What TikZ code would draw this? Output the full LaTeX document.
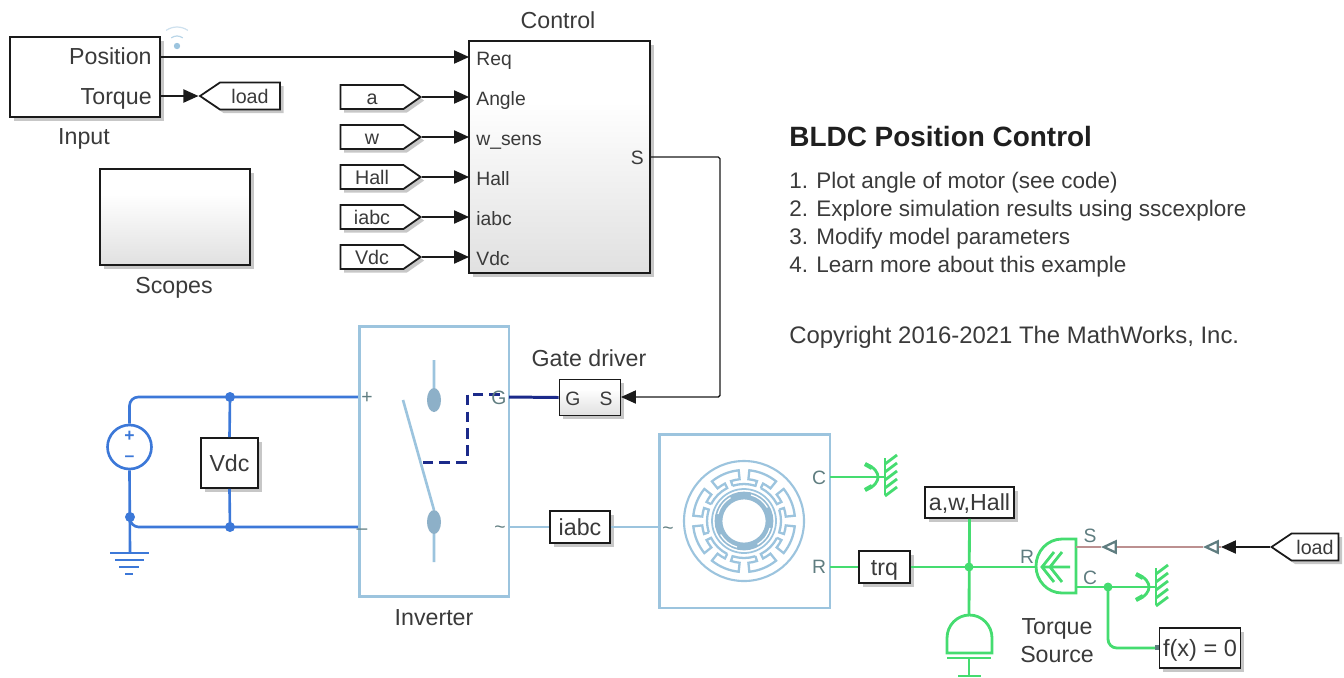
\documentclass[tikz,border=0pt]{standalone}
\usepackage{fontspec}
\setmainfont{Liberation Sans}
\usetikzlibrary{arrows.meta,shapes.symbols,shadows}
\definecolor{SigBlack}{HTML}{1A1A1A}
\definecolor{ElecBlue}{HTML}{3C78D8}
\definecolor{GateNavy}{HTML}{1B2A8A}
\definecolor{MotorBlue}{HTML}{9CC4DE}
\definecolor{MechGreen}{HTML}{45DC70}
\definecolor{SenseRed}{HTML}{BC9090}
\definecolor{PortGrey}{HTML}{5F7D80}
\definecolor{TextGrey}{HTML}{3A3A3A}
\pgfdeclareverticalshading{blockgrad}{100bp}{color(0bp)=(black!12); color(25bp)=(black!12); color(50bp)=(black!4); color(62bp)=(white); color(100bp)=(white)}
\tikzset{
  softshadow/.style={drop shadow={shadow xshift=2pt,shadow yshift=-2pt,opacity=.22,fill=black}},
  plainblock/.style={draw=SigBlack,line width=1.1pt,fill=white,softshadow,inner sep=0pt,text=TextGrey,text height=9.5pt,text depth=0pt,font=\fontsize{13.2}{15}\selectfont},
  gradblock/.style={plainblock,shade,shading=blockgrad},
  physbox/.style={draw=MotorBlue,line width=1.7pt,fill=white,inner sep=0pt},
  tagnode/.style={draw=SigBlack,line width=1pt,fill=white,softshadow,signal,signal from=nowhere,inner sep=0pt,text=TextGrey,text height=8pt,text depth=0pt,font=\fontsize{11.2}{13}\selectfont},
  lbl/.style={inner sep=0pt,text=TextGrey,text height=9.5pt,text depth=0pt,font=\fontsize{13.2}{15}\selectfont},
  portlbl/.style={inner sep=0pt,text=TextGrey,text height=8pt,text depth=0pt,font=\fontsize{11}{13}\selectfont},
  physport/.style={inner sep=0pt,text=PortGrey,text height=8pt,text depth=0pt,font=\fontsize{11}{13}\selectfont},
  sigline/.style={draw=SigBlack,line width=.8pt,-{Triangle[length=8.5pt,width=7.5pt]}},
  elecline/.style={draw=ElecBlue,line width=1.5pt},
  gateline/.style={draw=GateNavy,line width=1.7pt},
  motorline/.style={draw=MotorBlue,line width=1.5pt},
  mechline/.style={draw=MechGreen,line width=1.6pt},
  senseline/.style={draw=SenseRed,line width=1.3pt},
  hollowtip/.style={-{Triangle[open,length=9pt,width=8pt,color=PortGrey]}},
  elecdot/.style={fill=ElecBlue,draw=none},
  mechdot/.style={fill=MechGreen,draw=none},
  rotref/.pic={
    \draw[mechline] (0,-19) -- (0,18);
    \draw[mechline] (0,-13) -- (12,-22) (0,-5) -- (12,-14) (0,3) -- (12,-6) (0,11) -- (12,2) (0,19) -- (12,10);
    \draw[mechline] (-20,-13) .. controls (-10,-10) and (-7,-4) .. (-7,0) .. controls (-7,4) and (-10,10) .. (-20,13);
    \draw[mechline,line width=2.4pt] (-20,-13) -- (-13,-9) (-20,13) -- (-13,9);
  }
}
\begin{document}
\begin{tikzpicture}[x=0.02cm,y=-0.02cm]
  \useasboundingbox (0,0) rectangle (1344,677);

  % top row
  \node[plainblock,minimum width=3cm,minimum height=1.6cm] (input) at (85,77) {};
  \node[lbl,anchor=east] (inputPos) at (152,56) {Position};
  \node[lbl,anchor=east] (inputTrq) at (152,96) {Torque};
  \node[lbl] (inputName) at (84,136) {Input};
  \coordinate (posOut) at (160,57);
  \coordinate (trqOut) at (160,96);
  \fill[MotorBlue] (177,46) circle (3.2);
  \draw[MotorBlue!70,line width=.7pt] (177,46) ++(235:10) arc[start angle=235,end angle=305,radius=10];
  \draw[MotorBlue!50,line width=.7pt] (177,46) ++(235:19) arc[start angle=235,end angle=305,radius=19];
  \node[tagnode,signal to=west,signal pointer angle=68,minimum width=1.6cm,minimum height=.54cm] (loadOut) at (250,96) {load};
  \draw[sigline] (trqOut) -- (loadOut.west);

  \node[gradblock,minimum width=3cm,minimum height=1.92cm] (scopes) at (175,217) {};
  \node[lbl] (scopesName) at (174,285) {Scopes};

  % control block
  \node[gradblock,minimum width=3.62cm,minimum height=4.64cm] (control) at (559.5,157) {};
  \node[lbl] (controlName) at (558,20) {Control};
  \node[portlbl,anchor=west] (reqLbl) at (476,58) {Req};
  \node[portlbl,anchor=west] (angleLbl) at (476,98) {Angle};
  \node[portlbl,anchor=west] (wLbl) at (476,138) {w\_sens};
  \node[portlbl,anchor=west] (hallLbl) at (476,178) {Hall};
  \node[portlbl,anchor=west] (iabcLbl) at (476,218) {iabc};
  \node[portlbl,anchor=west] (vdcLbl) at (476,258) {Vdc};
  \node[portlbl,anchor=east] (sLbl) at (644,157) {S};
  \coordinate (reqIn) at (469,57);
  \coordinate (angleIn) at (469,97);
  \coordinate (wIn) at (469,137);
  \coordinate (hallIn) at (469,177);
  \coordinate (iabcIn) at (469,217);
  \coordinate (vdcIn) at (469,257);
  \coordinate (sOut) at (650,157);
  \draw[sigline] (posOut) -- (reqIn);

  \node[tagnode,signal to=east,signal pointer angle=70,minimum width=1.6cm,minimum height=.48cm] (fromA) at (372,97) {a\hspace{.62cm}};
  \node[tagnode,signal to=east,signal pointer angle=70,minimum width=1.6cm,minimum height=.48cm] (fromW) at (372,137) {w\hspace{.62cm}};
  \node[tagnode,signal to=east,signal pointer angle=70,minimum width=1.6cm,minimum height=.48cm] (fromHall) at (372,177) {Hall\hspace{.52cm}};
  \node[tagnode,signal to=east,signal pointer angle=70,minimum width=1.6cm,minimum height=.48cm] (fromIabc) at (372,217) {iabc\hspace{.52cm}};
  \node[tagnode,signal to=east,signal pointer angle=70,minimum width=1.6cm,minimum height=.48cm] (fromVdc) at (372,257) {Vdc\hspace{.52cm}};
  \draw[sigline] (fromA.east) -- (angleIn);
  \draw[sigline] (fromW.east) -- (wIn);
  \draw[sigline] (fromHall.east) -- (hallIn);
  \draw[sigline] (fromIabc.east) -- (iabcIn);
  \draw[sigline] (fromVdc.east) -- (vdcIn);

  % notes
  \node[anchor=west,inner sep=0pt,text=black!88,font=\bfseries\fontsize{15.9}{18}\selectfont] (title) at (789,137) {BLDC Position Control};
  \node[anchor=north west,inner sep=0pt,text=TextGrey,align=left,font=\fontsize{12.8}{15.87}\selectfont] (steps) at (789,172) {1. Plot angle of motor (see code)\\2. Explore simulation results using sscexplore\\3. Modify model parameters\\4. Learn more about this example};
  \node[anchor=west,inner sep=0pt,text=TextGrey,font=\fontsize{13.6}{15}\selectfont] (copyright) at (789,337) {Copyright 2016-2021 The MathWorks, Inc.};

  % supply side
  \node[plainblock,minimum width=1.14cm,minimum height=1cm] (vdcMeas) at (229.5,463) {Vdc};
  \node[draw=ElecBlue,line width=1.5pt,fill=white,circle,minimum size=.88cm,inner sep=0pt] (source) at (129.5,447) {};
  \node[inner sep=0pt,text=ElecBlue,font=\bfseries\fontsize{10}{10}\selectfont] (srcPlus) at (129.5,436) {+};
  \node[inner sep=0pt,text=ElecBlue,font=\bfseries\fontsize{10}{10}\selectfont] (srcMinus) at (129.5,459) {–};
  \coordinate (invPlus) at (359,397);
  \coordinate (invMinus) at (359,527);
  \coordinate (topJoin) at (230,397);
  \coordinate (botJoin) at (230,527);
  \coordinate (gndJoin) at (130,517);
  \coordinate (gndTop) at (130,553);
  \draw[elecline,rounded corners=5pt] (source.north) |- (invPlus);
  \draw[elecline] (source.south) -- (gndTop);
  \draw[elecline,rounded corners=5pt] (gndJoin) |- (invMinus);
  \draw[elecline] (topJoin) -- (vdcMeas.north);
  \draw[elecline] (vdcMeas.south) -- (botJoin);
  \fill[elecdot] (topJoin) circle (5);
  \fill[elecdot] (botJoin) circle (5);
  \fill[elecdot] (gndJoin) circle (5);
  \draw[elecline] (110,553) -- (149,553) (115,560) -- (144,560) (119,567) -- (139,567) (125,574) -- (133,574);

  % inverter
  \node[physbox,minimum width=3cm,minimum height=5.42cm] (inverter) at (434,461.5) {};
  \node[lbl] (inverterName) at (434,617) {Inverter};
  \draw[motorline] (434,360) -- (434,400) (434,522) -- (434,562) (403,400) -- (434,510);
  \fill[MotorBlue!90!black] (434,400) ellipse (7 and 12);
  \fill[MotorBlue!90!black] (434,522) ellipse (7 and 12);
  \draw[gateline,dash pattern=on 6pt off 3.6pt] (500,394) -- (467,394) -- (467,462) -- (419,462);
  \node[physport] (invPlusLbl) at (367,396) {+};
  \node[physport] (invMinusLbl) at (362,527) {–};
  \node[physport] (invGLbl) at (499,397) {G};
  \node[physport] (invAcLbl) at (500,526) {\textasciitilde};
  \coordinate (invG) at (509,397);
  \coordinate (invAc) at (509,527);

  % gate driver
  \node[gradblock,minimum width=1.22cm,minimum height=.72cm] (gate) at (590,397.5) {};
  \node[lbl] (gateName) at (589,358) {Gate driver};
  \node[portlbl] (gateG) at (573,398) {G};
  \node[portlbl] (gateS) at (606,398) {S};
  \coordinate (gateSIn) at (621,397);
  \draw[gateline] (invG) -- (gate.west);
  \draw[sigline,rounded corners=1pt] (sOut) -- (720,157) -- (720,397) -- (gateSIn);

  % motor
  \node[plainblock,minimum width=1.2cm,minimum height=.64cm] (iabcMeas) at (580,527) {iabc};
  \node[physbox,minimum width=3.42cm,minimum height=3.48cm] (motor) at (744.5,521) {};
  \coordinate (motorAc) at (659,527);
  \coordinate (motorC) at (830,477);
  \coordinate (motorR) at (830,567);
  \draw[motorline] (invAc) -- (iabcMeas.west);
  \draw[motorline] (iabcMeas.east) -- (motorAc);
  \node[physport] (motorAcLbl) at (668,527) {\textasciitilde};
  \node[physport] (motorCLbl) at (819,477) {C};
  \node[physport] (motorRLbl) at (819,566) {R};
  \begin{scope}[shift={(744,521)}]
    \draw[motorline,line width=1.2pt] (0,0) circle (60);
    \draw[MotorBlue!95!black,line width=4.4pt] (0,0) circle (25.5);
    \draw[white,line width=.7pt] (15:27) arc[start angle=15,end angle=60,radius=27] (105:27) arc[start angle=105,end angle=150,radius=27] (195:27) arc[start angle=195,end angle=240,radius=27] (285:27) arc[start angle=285,end angle=330,radius=27];
    \draw[motorline,line width=1pt] (0,0) circle (32);
    \foreach \a in {0,45,...,315} {
      \draw[motorline,line width=1.3pt] (\a-18:37) arc[start angle=\a-18,end angle=\a+18,radius=37] -- (\a+18:42)
        arc[start angle=\a+18,end angle=\a+6,radius=42] -- (\a+6:51)
        arc[start angle=\a+6,end angle=\a+39,radius=51] -- (\a+39:42)
        arc[start angle=\a+39,end angle=\a+27,radius=42] -- (\a+27:37);
    }
  \end{scope}

  % load side
  \pic (motorGnd) at (885,477) {rotref};
  \coordinate (motorGndIn) at (885,477);
  \draw[mechline] (motorC) -- (motorGndIn);
  \node[plainblock,minimum width=1.02cm,minimum height=.64cm] (trq) at (884.5,567) {trq};
  \node[plainblock,minimum width=1.78cm,minimum height=.62cm] (sensors) at (969.5,502.5) {a,w,Hall};
  \coordinate (rJoin) at (969,567);
  \coordinate (srcR) at (1036,567);
  \coordinate (inertiaTop) at (969,615);
  \draw[mechline] (motorR) -- (trq.west);
  \draw[mechline] (trq.east) -- (srcR);
  \draw[mechline] (sensors.south) -- (inertiaTop);
  \fill[mechdot] (rJoin) circle (4.5);
  \draw[mechline] (947,653) -- (947,638) arc[start angle=180,end angle=360,x radius=22.5,y radius=23] -- (992,653) -- cycle;
  \draw[mechline] (947,658) -- (991,658) (969,658) -- (969,676) (958,676) -- (981,676);

  % torque source
  \draw[mechline] (1076,539) -- (1062,539) arc[start angle=270,end angle=90,x radius=26,y radius=27] -- (1076,593) -- cycle;
  \draw[mechline] (1070,567) -- (1042,567) (1054,552) -- (1042,567) -- (1054,582) (1062,552) -- (1050,567) -- (1062,582);
  \node[physport] (srcRLbl) at (1027,556) {R};
  \node[physport] (srcSLbl) at (1090,535) {S};
  \node[physport] (srcCLbl) at (1090,577) {C};
  \node[inner sep=0pt,text=TextGrey,align=center,font=\fontsize{13.2}{16}\selectfont] (srcName) at (1057,641) {Torque\\Source};
  \coordinate (srcC) at (1076,587);
  \coordinate (cJoin) at (1108,587);
  \coordinate (srcGndIn) at (1156,587);
  \pic (srcGnd) at (1156,587) {rotref};
  \draw[mechline] (srcC) -- (srcGndIn);
  \fill[mechdot] (cJoin) circle (4.5);
  \node[plainblock,font=\fontsize{13.4}{15}\selectfont,minimum width=1.62cm,minimum height=.8cm] (solver) at (1200,648) {f(x) = 0};
  \draw[mechline,rounded corners=5pt] (cJoin) |- (solver.west);
  \fill[PortGrey] (1154.5,645) rectangle (1159,650);

  % load input
  \coordinate (srcS) at (1076,547);
  \coordinate (sensIn) at (1101,547);
  \coordinate (sensOut) at (1203,547);
  \coordinate (sensEnd) at (1221,547);
  \draw[senseline] (srcS) -- (sensIn);
  \draw[senseline,hollowtip] (sensOut) -- (sensIn);
  \draw[senseline,hollowtip] (sensEnd) -- (sensOut);
  \node[tagnode,signal to=west,signal pointer angle=68,minimum width=1.34cm,minimum height=.54cm] (loadIn) at (1315,547) {load\hspace{.2cm}};
  \draw[sigline] (loadIn.west) -- (sensEnd);
\end{tikzpicture}
\end{document}
